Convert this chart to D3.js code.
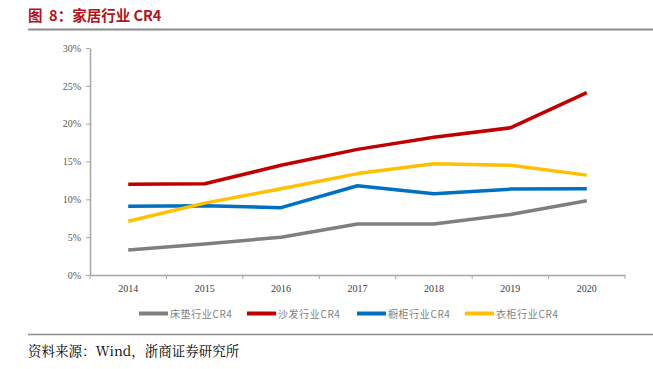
<!DOCTYPE html>
<html><head><meta charset="utf-8">
<script src="https://cdn.jsdelivr.net/npm/d3@7"></script>
<style>body{margin:0;background:#fff;} svg{display:block;}</style>
</head><body>
<script>
const years = ["2014","2015","2016","2017","2018","2019","2020"];
const mattress = [3.3, 4.1, 5.0, 6.75, 6.75, 8.0, 9.8];
const sofa = [12.0, 12.05, 14.5, 16.6, 18.2, 19.45, 24.1];
const cabinet = [9.1, 9.15, 8.9, 11.8, 10.75, 11.35, 11.4];
const wardrobe = [7.1, 9.5, 11.4, 13.4, 14.7, 14.5, 13.2];
const seriesNames = ["床垫行业CR4","沙发行业CR4","橱柜行业CR4","衣柜行业CR4"];
const seriesColors = ["#7f7f7f","#c00000","#0070c0","#ffc000"];
const yTicks = [0,5,10,15,20,25,30];

const W=653,H=369;
const svg=d3.select("body").append("svg").attr("width",W).attr("height",H);
const serif="'Liberation Serif','Times New Roman',serif";

// title
svg.append("text").attr("x",28).attr("y",21).attr("fill","#b5121b")
  .attr("font-family","'Noto Sans CJK SC','Liberation Sans',sans-serif").attr("font-weight","bold").attr("font-size",14.5)
  .attr("xml:space","preserve").style("white-space","pre")
  .text("图  8：家居行业 CR4");
svg.append("line").attr("x1",28).attr("x2",653).attr("y1",29.5).attr("y2",29.5).attr("stroke","#8c8c8c").attr("stroke-width",2);

const x=d3.scaleBand().domain(years).range([90,625]);
const y=d3.scaleLinear().domain([0,30]).range([275,48]);

// y axis
const ya=svg.append("g").attr("transform","translate(90,0)")
  .call(d3.axisLeft(y).tickValues(yTicks).tickFormat(d=>d+"%").tickSize(4).tickSizeOuter(0));
ya.select(".domain").attr("stroke","#a6a6a6").attr("stroke-width",1.5);
ya.selectAll(".tick line").attr("stroke","#a6a6a6");
ya.selectAll("text").attr("font-family",serif).attr("font-size",10).attr("fill","#595959").attr("x",-9);

// x axis
const xa=svg.append("g").attr("transform","translate(0,275)")
  .call(d3.axisBottom(x).tickSize(0).tickSizeOuter(0));
xa.select(".domain").attr("stroke","#a6a6a6").attr("stroke-width",1.5);
xa.selectAll("text").attr("font-family",serif).attr("font-size",10).attr("fill","#404040").attr("dy","1.4em");
// boundary ticks
const bounds=years.map(d=>x(d)).concat([x.range()[1]]);
svg.append("g").selectAll("line").data(bounds).join("line")
  .attr("x1",d=>d).attr("x2",d=>d).attr("y1",275).attr("y2",279).attr("stroke","#a6a6a6");

// lines
const all=[mattress,sofa,cabinet,wardrobe];
const line=d3.line().x((d,i)=>x(years[i])+x.bandwidth()/2).y(d=>y(d));
all.forEach((s,k)=>{
  svg.append("path").datum(s).attr("d",line).attr("fill","none")
    .attr("stroke",seriesColors[k]).attr("stroke-width",3.5).attr("stroke-linejoin","round");
});

// legend
const lx=[139,247,357,465];
seriesNames.forEach((n,k)=>{
  svg.append("line").attr("x1",lx[k]).attr("x2",lx[k]+29).attr("y1",313.5).attr("y2",313.5)
    .attr("stroke",seriesColors[k]).attr("stroke-width",4);
  svg.append("text").attr("x",lx[k]+31).attr("y",317.5).attr("font-size",10).attr("fill","#7f7f7f")
    .attr("letter-spacing",0.6)
    .attr("font-family","'Noto Sans CJK SC',sans-serif").text(n);
});

// footer
svg.append("line").attr("x1",28).attr("x2",653).attr("y1",334.5).attr("y2",334.5).attr("stroke","#8c8c8c").attr("stroke-width",1.5);
svg.append("text").attr("x",28).attr("y",356).attr("font-size",13.5).attr("fill","#000")
  .attr("font-family","'Noto Serif CJK SC','Liberation Serif',serif").text("资料来源：Wind，浙商证券研究所");
</script>
</body></html>
